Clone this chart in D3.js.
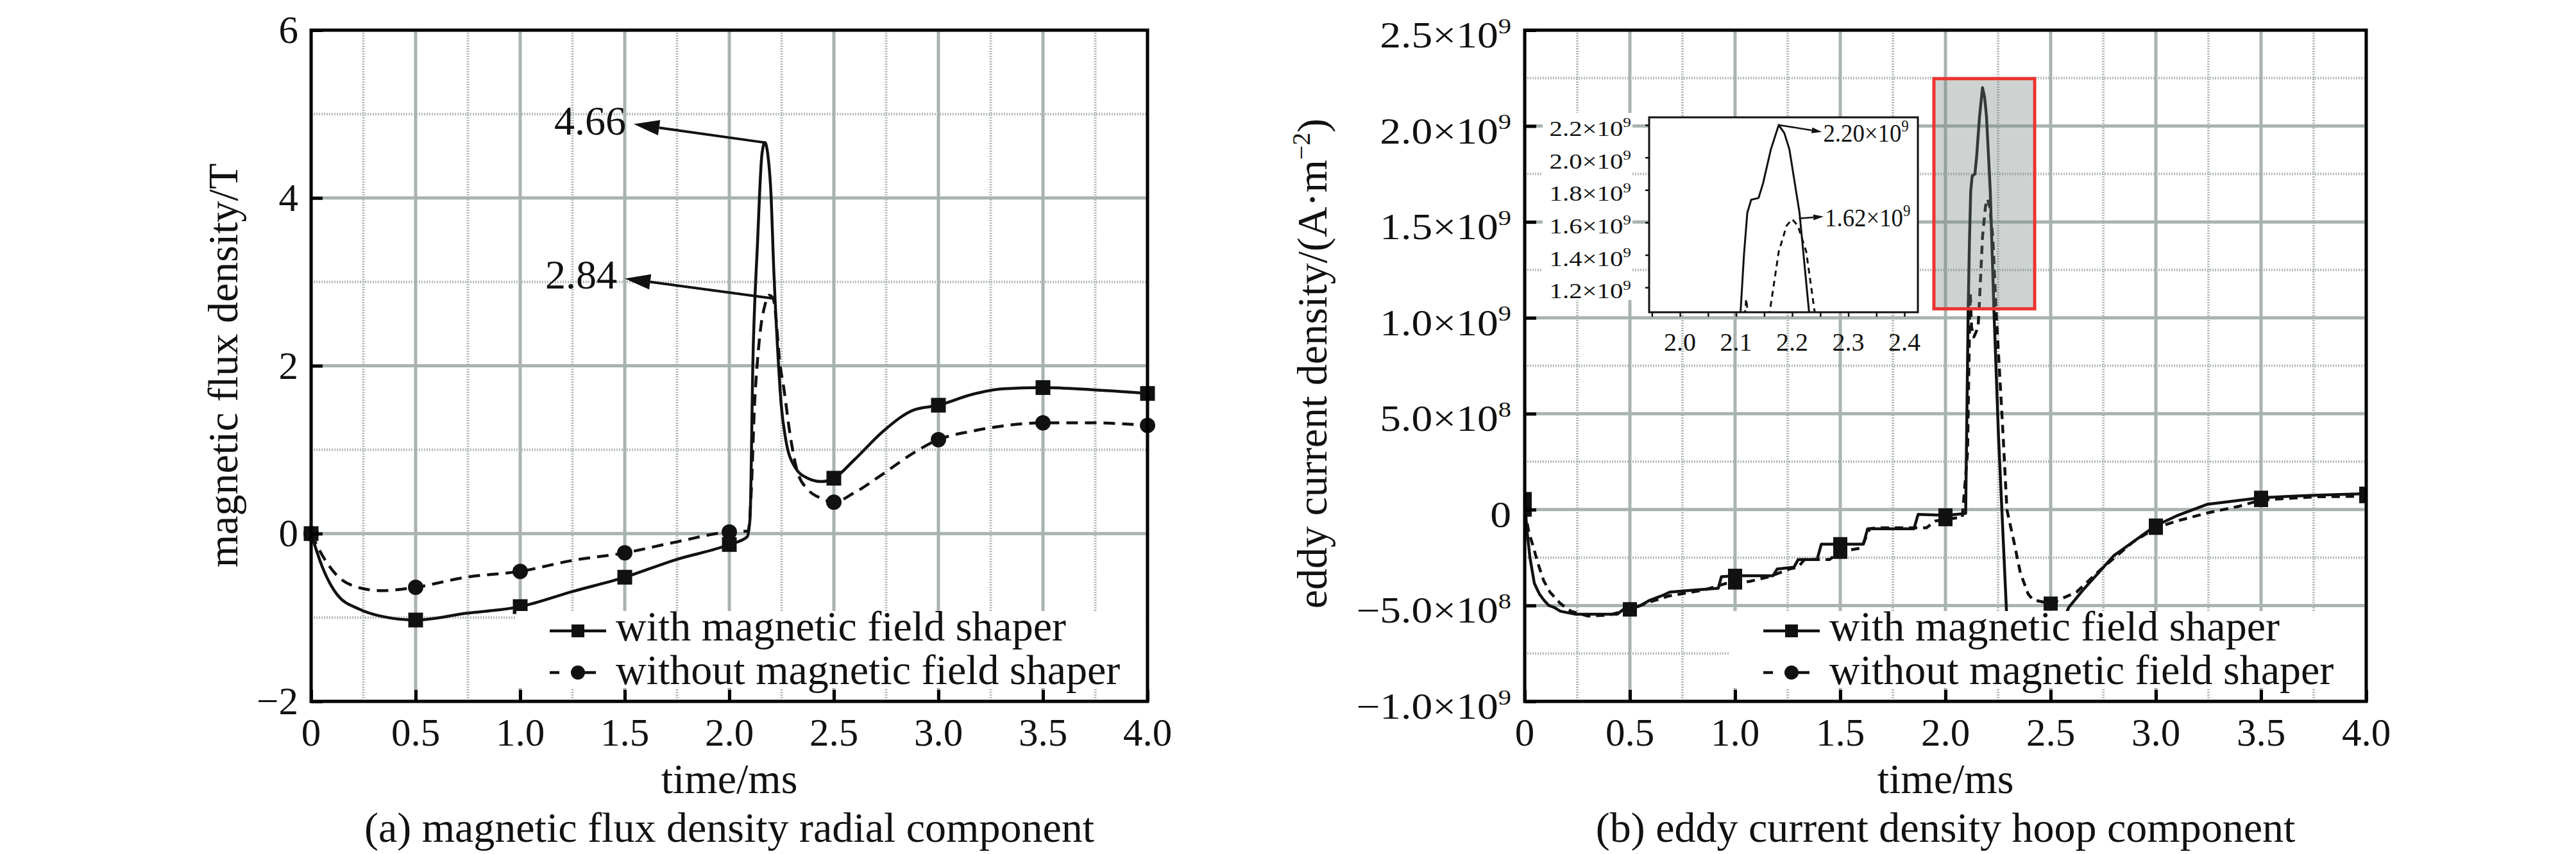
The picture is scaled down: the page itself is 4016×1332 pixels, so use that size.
<!DOCTYPE html>
<html>
<head>
<meta charset="utf-8">
<script src="https://cdn.jsdelivr.net/npm/d3@7"></script>
<style>
  body { margin: 0; background: #fff; }
  text { font-family: "Liberation Serif", "Times New Roman", serif; fill: #111; }
</style>
</head>
<body>
<svg id="chart" width="4016" height="1332"></svg>
<script>
// ---- data ----
var timeTicks = [0, 0.5, 1.0, 1.5, 2.0, 2.5, 3.0, 3.5, 4.0];
var timeTickLabels = ['0', '0.5', '1.0', '1.5', '2.0', '2.5', '3.0', '3.5', '4.0'];
var timeMinor = [0.25, 0.75, 1.25, 1.75, 2.25, 2.75, 3.25, 3.75];
var markerTimes = [0, 0.5, 1.0, 1.5, 2.0, 2.5, 3.0, 3.5, 4.0];

var fluxTicks = [-2, 0, 2, 4, 6];
var fluxTickLabels = ['\u22122', '0', '2', '4', '6'];
var fluxMinor = [-1, 1, 3, 5];

// eddy current density in units of 1e9 A/m^2
var eddyTicks = [-1.0, -0.5, 0, 0.5, 1.0, 1.5, 2.0, 2.5];
var eddyTickLabels = [['\u22121.0\u00d710', '9'], ['\u22125.0\u00d710', '8'], ['0', ''], ['5.0\u00d710', '8'],
                      ['1.0\u00d710', '9'], ['1.5\u00d710', '9'], ['2.0\u00d710', '9'], ['2.5\u00d710', '9']];
var eddyMinor = [-0.75, -0.25, 0.25, 0.75, 1.25, 1.75, 2.25];

var zoomTimeTicks = [2.0, 2.1, 2.2, 2.3, 2.4];
var zoomTimeTickLabels = ['2.0', '2.1', '2.2', '2.3', '2.4'];
var zoomTimeMinor = [1.95, 2.05, 2.15, 2.25, 2.35];
var zoomEddyTicks = [1.2, 1.4, 1.6, 1.8, 2.0, 2.2];
var zoomEddyTickLabels = ['1.2\u00d710', '1.4\u00d710', '1.6\u00d710', '1.8\u00d710', '2.0\u00d710', '2.2\u00d710'];
var zoomWindowT = [1.945, 2.424];
var zoomWindowV = [1.047, 2.247];

var seriesNames = ['with magnetic field shaper', 'without magnetic field shaper'];

var fluxWith = [[0,0],[0.054,-0.40],[0.124,-0.725],[0.23,-0.90],[0.335,-0.985],[0.5,-1.03],[0.74,-0.95],[1.0,-0.87],
  [1.25,-0.69],[1.5,-0.52],[1.745,-0.31],[2.0,-0.13],[2.085,-0.04],[2.099,0.175],[2.113,2.07],[2.135,3.47],
  [2.156,4.52],[2.17,4.66],[2.184,4.52],[2.199,4.06],[2.213,3.12],[2.234,2.07],[2.248,1.54],[2.27,1.12],
  [2.312,0.80],[2.37,0.665],[2.44,0.62],[2.5,0.66],[2.596,0.875],[2.738,1.225],[2.879,1.47],[3.0,1.53],
  [3.163,1.66],[3.305,1.725],[3.5,1.74],[3.73,1.715],[4.0,1.67]];
var fluxWithout = [[0,0],[0.054,-0.26],[0.124,-0.50],[0.21,-0.63],[0.335,-0.68],[0.5,-0.64],[0.74,-0.52],[1.0,-0.45],
  [1.25,-0.32],[1.5,-0.23],[1.745,-0.10],[2.0,0.02],[2.09,0.03],[2.105,0.5],[2.12,1.5],[2.135,2.07],[2.15,2.45],
  [2.17,2.72],[2.19,2.84],[2.21,2.80],[2.222,2.6],[2.24,2.07],[2.262,1.71],[2.29,1.19],[2.326,0.735],
  [2.376,0.525],[2.44,0.42],[2.5,0.375],[2.6,0.49],[2.74,0.72],[2.88,0.96],[3.0,1.12],[3.16,1.22],
  [3.3,1.28],[3.5,1.32],[3.73,1.32],[4.0,1.29]];

var eddyWith = [[0,0.055],[0.01,-0.1],[0.025,-0.25],[0.046,-0.385],[0.07,-0.44],[0.09,-0.47],[0.115,-0.50],
  [0.14,-0.51],[0.17,-0.53],[0.24,-0.545],[0.44,-0.545],[0.47,-0.52],[0.5,-0.52],[0.55,-0.50],[0.59,-0.475],
  [0.65,-0.45],[0.69,-0.43],[0.8,-0.42],[0.92,-0.41],[0.935,-0.35],[1.0,-0.345],[1.18,-0.345],[1.2,-0.31],
  [1.28,-0.30],[1.3,-0.26],[1.39,-0.26],[1.41,-0.18],[1.5,-0.18],[1.61,-0.18],[1.63,-0.10],[1.85,-0.10],
  [1.87,-0.025],[2.0,-0.03],[2.096,-0.02],[2.108,1.05],[2.114,1.40],[2.12,1.66],[2.127,1.74],[2.14,1.75],
  [2.148,1.84],[2.162,2.05],[2.176,2.20],[2.186,2.15],[2.195,2.05],[2.213,1.66],[2.23,1.05],[2.252,0.385],
  [2.29,-0.53],[2.33,-0.70],[2.4,-0.80],[2.5,-0.72],[2.55,-0.60],[2.586,-0.51],[2.653,-0.42],[2.8,-0.24],
  [3.0,-0.083],[3.098,-0.033],[3.246,0.028],[3.5,0.062],[3.75,0.075],[4.0,0.083]];
var eddyWithout = [[0,0.0],[0.02,-0.12],[0.04,-0.19],[0.06,-0.27],[0.09,-0.37],[0.12,-0.43],[0.17,-0.49],
  [0.22,-0.53],[0.3,-0.555],[0.4,-0.55],[0.5,-0.52],[0.6,-0.48],[0.686,-0.45],[0.85,-0.42],[0.957,-0.385],
  [1.0,-0.38],[1.067,-0.375],[1.162,-0.35],[1.258,-0.31],[1.3,-0.30],[1.33,-0.26],[1.449,-0.26],[1.5,-0.22],
  [1.6,-0.20],[1.64,-0.10],[1.667,-0.095],[1.91,-0.095],[1.95,-0.06],[2.0,-0.05],[2.08,-0.04],[2.105,0.3],
  [2.115,1.0],[2.118,1.13],[2.124,0.95],[2.135,0.90],[2.155,0.95],[2.16,1.05],[2.176,1.42],[2.19,1.58],
  [2.20,1.62],[2.21,1.58],[2.225,1.42],[2.24,1.05],[2.274,0.385],[2.292,0.0],[2.326,-0.17],[2.356,-0.33],
  [2.393,-0.44],[2.415,-0.47],[2.5,-0.49],[2.623,-0.43],[2.74,-0.31],[2.89,-0.17],[3.0,-0.095],
  [3.098,-0.06],[3.246,-0.017],[3.394,0.017],[3.5,0.05],[3.765,0.067],[4.0,0.07]];

// peak call-outs: point on curve -> arrow tip next to the label (data units)
var fluxPeaks = [{label: '4.66', at: [2.17, 4.66], tip: [1.543, 4.88]},
                 {label: '2.84', at: [2.215, 2.80], tip: [1.50, 3.04]}];
var eddyPeaks = [{label: '2.20\u00d710', at: [2.176, 2.20], tip: [2.253, 2.157]},
                 {label: '1.62\u00d710', at: [2.212, 1.624], tip: [2.256, 1.636]}];

// ---- drawing ----
var svg = d3.select('#chart');
var defs = svg.append('defs');
var GRID = '#a9b3b0', GRID_MINOR = '#b3bcb9';

function addClip(id, x0, y0, x1, y1) {
  defs.append('clipPath').attr('id', id).append('rect')
    .attr('x', x0).attr('y', y0).attr('width', x1 - x0).attr('height', y1 - y0);
}

function drawGrid(g, x, y, xMajor, xMinor, yMajor, yMinor) {
  var xr = x.range(), yr = y.range();
  g.selectAll(null).data(xMinor).enter().append('line')
    .attr('x1', d => x(d)).attr('x2', d => x(d)).attr('y1', yr[1]).attr('y2', yr[0])
    .attr('stroke', GRID_MINOR).attr('stroke-width', 4).attr('stroke-dasharray', '2,2');
  g.selectAll(null).data(yMinor).enter().append('line')
    .attr('x1', xr[0]).attr('x2', xr[1]).attr('y1', d => y(d)).attr('y2', d => y(d))
    .attr('stroke', GRID_MINOR).attr('stroke-width', 4).attr('stroke-dasharray', '2,2');
  g.selectAll(null).data(xMajor).enter().append('line')
    .attr('x1', d => x(d)).attr('x2', d => x(d)).attr('y1', yr[1]).attr('y2', yr[0])
    .attr('stroke', GRID).attr('stroke-width', 5);
  g.selectAll(null).data(yMajor).enter().append('line')
    .attr('x1', xr[0]).attr('x2', xr[1]).attr('y1', d => y(d)).attr('y2', d => y(d))
    .attr('stroke', GRID).attr('stroke-width', 5);
}

function drawCurve(g, x, y, data, dash, curve, width) {
  var line = d3.line().x(d => x(d[0])).y(d => y(d[1])).curve(curve);
  g.append('path').datum(data).attr('d', line)
    .attr('fill', 'none').attr('stroke', '#111').attr('stroke-width', width || 4.5)
    .attr('stroke-dasharray', dash).attr('stroke-linejoin', 'round');
}

function drawMarkers(g, x, y, data, shape, size) {
  var pts = data.filter(d => markerTimes.indexOf(d[0]) >= 0);
  if (shape === 'square') {
    g.selectAll(null).data(pts).enter().append('rect')
      .attr('x', d => x(d[0]) - size / 2).attr('y', d => y(d[1]) - size / 2)
      .attr('width', size).attr('height', size).attr('fill', '#111');
  } else {
    g.selectAll(null).data(pts).enter().append('circle')
      .attr('cx', d => x(d[0])).attr('cy', d => y(d[1])).attr('r', size / 2).attr('fill', '#111');
  }
}

function drawFrame(g, x, y, xTicks, yTicks, tickLen) {
  var xr = x.range(), yr = y.range();
  var bx = g.append('g').attr('transform', 'translate(0,' + yr[0] + ')')
    .call(d3.axisBottom(x).tickValues(xTicks).tickSize(-tickLen).tickFormat(''));
  var by = g.append('g').attr('transform', 'translate(' + xr[0] + ',0)')
    .call(d3.axisLeft(y).tickValues(yTicks).tickSize(-tickLen).tickFormat(''));
  [bx, by].forEach(function(a) {
    a.select('.domain').remove();
    a.selectAll('line').attr('stroke', '#000').attr('stroke-width', 5);
  });
  g.append('rect').attr('x', xr[0]).attr('y', yr[1])
    .attr('width', xr[1] - xr[0]).attr('height', yr[0] - yr[1])
    .attr('fill', 'none').attr('stroke', '#000').attr('stroke-width', 5);
}

function arrow(g, x1, y1, x2, y2, len, wid, sw) {
  var a = Math.atan2(y2 - y1, x2 - x1);
  var bx = x2 - len * Math.cos(a), by = y2 - len * Math.sin(a);
  var nx = -Math.sin(a) * wid / 2, ny = Math.cos(a) * wid / 2;
  g.append('line').attr('x1', x1).attr('y1', y1).attr('x2', bx).attr('y2', by)
    .attr('stroke', '#111').attr('stroke-width', sw);
  g.append('polygon').attr('fill', '#111')
    .attr('points', [[x2, y2], [bx + nx, by + ny], [bx - nx, by - ny]].map(p => p.join(',')).join(' '));
}

function supLabel(g, base, sup, size) {
  var t = g.append('text').attr('font-size', size);
  t.append('tspan').text(base);
  if (sup) t.append('tspan').attr('font-size', size * 0.62).attr('dy', -size * 0.4).text(sup);
  return t;
}

function drawLegend(g, left, right) {
  g.append('rect').attr('x', left + 320).attr('y', 953)
    .attr('width', right - left - 323).attr('height', 120).attr('fill', '#fff');
}

function drawLegendItems(g, left, names) {
  var rows = [999, 1067];
  // solid with square
  g.append('line').attr('x1', left + 372).attr('x2', left + 460)
    .attr('y1', rows[0] - 15).attr('y2', rows[0] - 15).attr('stroke', '#111').attr('stroke-width', 4.5);
  g.append('rect').attr('x', left + 406).attr('y', rows[0] - 25).attr('width', 20).attr('height', 20).attr('fill', '#111');
  // dashed with circle
  g.append('line').attr('x1', left + 372).attr('x2', left + 444)
    .attr('y1', rows[1] - 18).attr('y2', rows[1] - 18).attr('stroke', '#111').attr('stroke-width', 4.5)
    .attr('stroke-dasharray', '15,18,60');
  g.append('circle').attr('cx', left + 416).attr('cy', rows[1] - 18).attr('r', 11).attr('fill', '#111');
  g.selectAll(null).data(names).enter().append('text')
    .attr('x', left + 475).attr('y', (d, i) => rows[i]).attr('font-size', 66).text(d => d);
}

// ============ panel (a) ============
var xA = d3.scaleLinear().domain([0, 4]).range([485, 1789]);
var yA = d3.scaleLinear().domain([-2, 6]).range([1094, 47]);
var gA = svg.append('g');
addClip('clipA', 485, 47, 1789, 1094);
var plotA = gA.append('g').attr('clip-path', 'url(#clipA)');
drawGrid(plotA, xA, yA, timeTicks, timeMinor, fluxTicks, fluxMinor);
drawCurve(plotA, xA, yA, fluxWithout, '18,11', d3.curveMonotoneX);
drawCurve(plotA, xA, yA, fluxWith, null, d3.curveMonotoneX);
drawMarkers(gA, xA, yA, fluxWithout, 'circle', 24);
drawMarkers(gA, xA, yA, fluxWith, 'square', 23);
drawLegend(gA, 485, 1789);
drawFrame(gA, xA, yA, timeTicks, fluxTicks, 18);
drawLegendItems(gA, 485, seriesNames);

gA.selectAll(null).data(timeTicks).enter().append('text')
  .attr('x', d => xA(d)).attr('y', 1163).attr('text-anchor', 'middle').attr('font-size', 61)
  .text((d, i) => timeTickLabels[i]);
gA.selectAll(null).data(fluxTicks).enter().append('text')
  .attr('x', 465).attr('y', d => yA(d) + 20).attr('text-anchor', 'end').attr('font-size', 61)
  .text((d, i) => fluxTickLabels[i]);
gA.append('text').attr('x', 1137).attr('y', 1237).attr('text-anchor', 'middle').attr('font-size', 66).text('time/ms');
gA.append('text').attr('x', 1137).attr('y', 1313).attr('text-anchor', 'middle').attr('font-size', 66)
  .text('(a) magnetic flux density radial component');
gA.append('text').attr('transform', 'translate(370,570) rotate(-90)').attr('text-anchor', 'middle')
  .attr('font-size', 66).text('magnetic flux density/T');

fluxPeaks.forEach(function(p) {
  var tx = xA(p.tip[0]), ty = yA(p.tip[1]);
  arrow(gA, xA(p.at[0]), yA(p.at[1]), tx, ty, 40, 24, 4);
  gA.append('text').attr('x', tx - 12).attr('y', ty + 16).attr('text-anchor', 'end')
    .attr('font-size', 64).text(p.label);
});

// ============ panel (b) ============
var xB = d3.scaleLinear().domain([0, 4]).range([2377, 3689]);
var yB = d3.scaleLinear().domain([-1, 2.5]).range([1094, 47]);
var gB = svg.append('g');
addClip('clipB', 2377, 47, 3689, 1094);
var plotB = gB.append('g').attr('clip-path', 'url(#clipB)');
drawGrid(plotB, xB, yB, timeTicks, timeMinor, eddyTicks, eddyMinor);
drawCurve(plotB, xB, yB, eddyWithout, '13,9', d3.curveLinear);
drawCurve(plotB, xB, yB, eddyWith, null, d3.curveLinear);
drawMarkers(plotB, xB, yB, eddyWithout, 'square', 22);
drawMarkers(plotB, xB, yB, eddyWith, 'square', 22);

// translucent zoom window over the peak
var zx0 = xB(zoomWindowT[0]), zx1 = xB(zoomWindowT[1]);
var zy0 = yB(zoomWindowV[1]), zy1 = yB(zoomWindowV[0]);
gB.append('rect').attr('x', zx0).attr('y', zy0).attr('width', zx1 - zx0).attr('height', zy1 - zy0)
  .attr('fill', 'rgb(120,132,130)').attr('fill-opacity', 0.36);
gB.append('rect').attr('x', zx0).attr('y', zy0).attr('width', zx1 - zx0).attr('height', zy1 - zy0)
  .attr('fill', 'none').attr('stroke', '#ec3431').attr('stroke-width', 5);

drawLegend(gB, 2377, 3689);
drawFrame(gB, xB, yB, timeTicks, eddyTicks, 18);
drawLegendItems(gB, 2377, seriesNames);

gB.selectAll(null).data(timeTicks).enter().append('text')
  .attr('x', d => xB(d)).attr('y', 1163).attr('text-anchor', 'middle').attr('font-size', 61)
  .text((d, i) => timeTickLabels[i]);
eddyTicks.forEach(function(v, i) {
  var g = gB.append('g').attr('transform', 'translate(2356,' + (yB(v) + 27) + ') scale(1.17,1)');
  supLabel(g, eddyTickLabels[i][0], eddyTickLabels[i][1], 56).attr('text-anchor', 'end');
});
gB.append('text').attr('x', 3033).attr('y', 1237).attr('text-anchor', 'middle').attr('font-size', 66).text('time/ms');
gB.append('text').attr('x', 3033).attr('y', 1313).attr('text-anchor', 'middle').attr('font-size', 66)
  .text('(b) eddy current density hoop component');
var yt = gB.append('text').attr('transform', 'translate(2068,567) rotate(-90)').attr('text-anchor', 'middle')
  .attr('font-size', 66);
yt.append('tspan').text('eddy current density/(A\u00b7m');
yt.append('tspan').attr('font-size', 40).attr('dy', -26).text('\u22122');
yt.append('tspan').attr('dy', 26).text(')');

// ---- inset ----
var xI = d3.scaleLinear().domain(zoomWindowT).range([2571, 2990]);
var yI = d3.scaleLinear().domain(zoomWindowV).range([487, 183]);
var gI = gB.append('g');
gI.append('rect').attr('x', 2405).attr('y', 176).attr('width', 140).attr('height', 292).attr('fill', '#fff');
gI.append('rect').attr('x', 2571).attr('y', 183).attr('width', 419).attr('height', 304).attr('fill', '#fff');
addClip('clipI', 2571, 183, 2990, 487);
var plotI = gI.append('g').attr('clip-path', 'url(#clipI)');
drawCurve(plotI, xI, yI, eddyWithout, '9,7', d3.curveLinear, 3);
drawCurve(plotI, xI, yI, eddyWith, null, d3.curveLinear, 3);
gI.append('rect').attr('x', 2571).attr('y', 183).attr('width', 419).attr('height', 304)
  .attr('fill', 'none').attr('stroke', '#111').attr('stroke-width', 3);
var ix = gI.append('g').attr('transform', 'translate(0,487)')
  .call(d3.axisBottom(xI).tickValues(zoomTimeTicks.concat(zoomTimeMinor)).tickSize(7).tickFormat(''));
var iy = gI.append('g').attr('transform', 'translate(2571,0)')
  .call(d3.axisLeft(yI).tickValues(zoomEddyTicks).tickSize(6).tickFormat(''));
[ix, iy].forEach(function(a) {
  a.select('.domain').remove();
  a.selectAll('line').attr('stroke', '#111').attr('stroke-width', 2.5);
});
gI.selectAll(null).data(zoomTimeTicks).enter().append('text')
  .attr('x', d => xI(d)).attr('y', 547).attr('text-anchor', 'middle').attr('font-size', 40)
  .text((d, i) => zoomTimeTickLabels[i]);
zoomEddyTicks.forEach(function(v, i) {
  var g = gI.append('g').attr('transform', 'translate(2543,' + (yI(v) + 17) + ') scale(1.2,1)');
  supLabel(g, zoomEddyTickLabels[i], '9', 34).attr('text-anchor', 'end');
});
eddyPeaks.forEach(function(p) {
  var tx = xI(p.tip[0]), ty = yI(p.tip[1]);
  arrow(gI, xI(p.at[0]), yI(p.at[1]), tx, ty, 16, 9, 2.5);
  supLabel(gI.append('g').attr('transform', 'translate(' + (tx + 2) + ',' + (ty + 15) + ') scale(0.92,1)'),
    p.label, '9', 40);
});
</script>
</body>
</html>
